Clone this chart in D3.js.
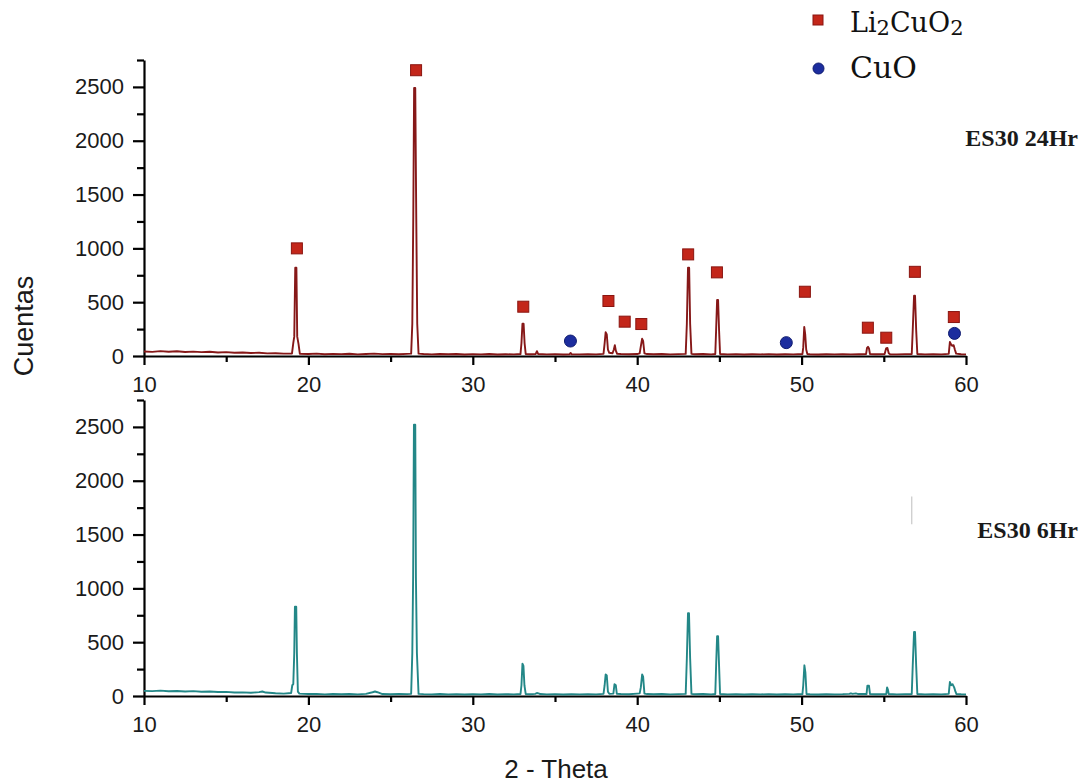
<!DOCTYPE html>
<html>
<head>
<meta charset="utf-8">
<script src="https://cdn.jsdelivr.net/npm/d3@7"></script>
<style>
  html, body { margin: 0; padding: 0; background: #fff; }
  svg { display: block; }
</style>
</head>
<body>
<svg id="chart" width="1088" height="784"></svg>
<script>
// ---------------- DATA ----------------
const xMajorTicks = [10, 20, 30, 40, 50, 60];
const xMinorTicks = [15, 25, 35, 45, 55];
const yMajorTicks = [0, 500, 1000, 1500, 2000, 2500];
const yMinorTicks = [250, 750, 1250, 1750, 2250, 2750];

const seriesNames = ["ES30 24Hr", "ES30 6Hr"];
const legendNames = ["Li2CuO2", "CuO"];

// ES30 24Hr pattern: [2-theta, counts]
const es30_24hr = [
  [10,42],[10.5,38],[11,45],[11.5,40],[12,44],[12.5,37],[13,41],[13.5,36],[14,39],[14.5,33],
  [15,36],[15.5,30],[16,32],[16.5,28],[17,30],[17.5,24],[18,26],[18.5,22],[19.0,22],
  [19.08,120],[19.14,180],[19.2,820],[19.27,820],[19.32,180],[19.4,110],[19.48,20],
  [20,18],[20.5,22],[21,16],[21.5,20],[22,17],[22.5,21],[23,15],[23.5,19],[24,22],[24.5,17],
  [25,19],[25.5,16],[26,20],[26.25,22],
  [26.32,300],[26.38,1300],[26.43,2490],[26.5,2490],[26.56,1300],[26.62,300],[26.7,22],
  [27,18],[27.5,15],[28,19],[28.5,16],[29,18],[29.5,14],[30,17],[30.5,15],[31,18],[31.5,14],
  [32,16],[32.5,15],[32.9,18],
  [32.96,120],[33.02,300],[33.09,300],[33.15,120],[33.22,18],
  [33.5,16],[33.82,18],[33.9,45],[33.98,18],[34.5,15],[35,17],[35.5,14],[35.88,16],[35.95,28],
  [36.02,16],[36.5,15],[37,17],[37.5,15],[37.95,20],
  [38.02,120],[38.08,220],[38.15,200],[38.22,60],[38.3,30],[38.5,25],[38.58,60],[38.64,100],
  [38.7,50],[38.78,20],
  [39,18],[39.5,16],[40,18],[40.15,25],
  [40.22,90],[40.3,160],[40.36,140],[40.44,25],
  [40.6,18],[41,16],[41.5,18],[42,15],[42.5,17],[42.95,20],
  [43.02,300],[43.09,820],[43.16,820],[43.22,300],[43.3,20],
  [43.5,16],[44,18],[44.5,15],[44.75,18],
  [44.8,240],[44.86,520],[44.92,520],[44.98,240],[45.04,18],
  [45.5,15],[46,17],[46.5,14],[47,16],[47.5,15],[48,17],[48.5,14],[49,16],[49.5,15],[50.05,18],
  [50.1,80],[50.16,270],[50.22,200],[50.28,60],[50.35,18],
  [50.5,16],[51,14],[51.5,16],[52,15],[52.5,17],[53,15],[53.5,16],[53.92,18],
  [53.98,75],[54.04,85],[54.1,70],[54.16,18],
  [54.5,16],[55.05,18],[55.14,70],[55.22,75],[55.3,25],[55.38,16],
  [55.8,15],[56.3,17],[56.7,18],
  [56.76,240],[56.84,560],[56.9,560],[56.97,240],[57.04,18],
  [57.5,15],[58,17],[58.5,15],[58.95,20],
  [59.02,130],[59.08,110],[59.15,95],[59.25,100],[59.32,60],[59.4,22],
  [59.7,16],[60,15]
];

// ES30 6Hr pattern: [2-theta, counts]
const es30_6hr = [
  [10,48],[10.5,45],[11,50],[11.5,44],[12,46],[12.5,42],[13,45],[13.5,40],[14,42],[14.5,37],
  [15,38],[15.5,33],[16,34],[16.5,30],[17.0,36],[17.2,42],[17.4,32],[18,25],[18.5,22],[18.95,28],
  [19.02,100],[19.08,110],[19.14,400],[19.18,830],[19.26,830],[19.3,400],[19.36,40],[19.45,22],
  [20,18],[20.5,20],[21,15],[21.5,18],[22,16],[22.5,19],[23,15],[23.5,20],[23.9,35],[24.05,42],
  [24.2,35],[24.5,18],[25,16],[25.5,18],[26,17],[26.25,20],
  [26.32,400],[26.37,1100],[26.42,2520],[26.5,2520],[26.54,1100],[26.6,400],[26.7,20],
  [27,17],[27.5,15],[28,18],[28.5,15],[29,17],[29.5,14],[30,16],[30.5,15],[31,19],[31.5,14],
  [32,17],[32.5,15],[32.9,18],
  [32.96,100],[33.02,300],[33.08,280],[33.14,100],[33.22,18],
  [33.5,16],[33.8,20],[33.9,28],[34.0,25],[34.1,18],[34.5,15],[35,17],[35.5,14],[36,16],
  [36.5,15],[37,17],[37.5,15],[37.95,20],
  [38.02,100],[38.08,200],[38.15,190],[38.22,40],[38.3,20],[38.55,22],[38.62,110],[38.7,100],
  [38.76,20],
  [39,18],[39.5,16],[40.0,22],[40.15,24],
  [40.22,80],[40.3,200],[40.36,180],[40.44,22],
  [40.6,18],[41,16],[41.5,18],[42,15],[42.5,17],[42.95,20],
  [43.02,350],[43.09,770],[43.15,770],[43.22,350],[43.3,20],
  [43.5,16],[44,18],[44.5,15],[44.75,18],
  [44.8,280],[44.86,555],[44.92,555],[44.98,280],[45.04,18],
  [45.5,15],[46,17],[46.5,14],[47,16],[47.5,15],[48,17],[48.5,14],[49,16],[49.5,15],[50.05,18],
  [50.1,100],[50.17,285],[50.23,220],[50.3,18],
  [50.5,16],[51,14],[51.5,16],[52,15],[52.5,17],[52.9,20],[53.0,25],[53.1,20],[53.3,24],[53.45,18],
  [53.95,18],[54.0,95],[54.1,95],[54.16,18],
  [54.5,16],[55.15,18],[55.2,80],[55.25,60],[55.3,18],
  [55.8,15],[56.3,17],[56.7,18],
  [56.76,280],[56.84,595],[56.9,595],[56.97,280],[57.04,18],
  [57.5,15],[58,17],[58.5,15],[58.95,20],
  [59.02,130],[59.1,100],[59.18,110],[59.28,80],[59.36,40],[59.42,18],
  [59.7,16],[60,15]
];

// Phase markers on the 24Hr pattern: [2-theta, counts]
const li2cuo2Markers = [
  [19.3,1000],[26.55,2655],[33.07,458],[38.25,511],[39.24,319],[40.25,297],
  [43.1,944],[44.85,777],[50.2,597],[54.03,263],[55.15,170],[56.89,782],[59.26,362]
];
const cuoMarkers = [[35.94,139],[49.07,124],[59.3,210]];

// faint artefact mark in lower panel: [2-theta, counts]
const artefact = [[56.7,1854],[56.7,1596]];

// ---------------- CHART ----------------
const svg = d3.select("#chart");
svg.append("rect").attr("width",1088).attr("height",784).attr("fill","#fff");

const x = d3.scaleLinear().domain([10, 60]).range([144, 966]);
const yTop = d3.scaleLinear().domain([0, 2750]).range([356, 60]);
const yBot = d3.scaleLinear().domain([0, 2750]).range([696, 400]);

const tickFont = "'Liberation Sans', Arial, sans-serif";

function drawAxes(y) {
  const y0 = y(0);
  svg.append("g").attr("transform", `translate(0,${y0})`)
    .call(d3.axisBottom(x).tickValues(xMinorTicks).tickSize(6).tickSizeOuter(0).tickFormat(""))
    .call(g => g.select(".domain").remove());
  const gx = svg.append("g").attr("transform", `translate(0,${y0})`)
    .call(d3.axisBottom(x).tickValues(xMajorTicks).tickSize(9).tickSizeOuter(0).tickPadding(11).tickFormat(d3.format("d")));
  svg.append("g").attr("transform", `translate(${x(10)},0)`)
    .call(d3.axisLeft(y).tickValues(yMinorTicks).tickSize(7).tickSizeOuter(0).tickFormat(""))
    .call(g => g.select(".domain").remove());
  const gy = svg.append("g").attr("transform", `translate(${x(10)},0)`)
    .call(d3.axisLeft(y).tickValues(yMajorTicks).tickSize(11).tickSizeOuter(0).tickPadding(9).tickFormat(d3.format("d")));
  svg.selectAll(".domain").attr("stroke", "#000").attr("stroke-width", 2.2);
  svg.selectAll(".tick line").attr("stroke", "#000").attr("stroke-width", 2.2);
  [gx, gy].forEach(g => g.selectAll("text")
    .attr("font-family", tickFont).attr("font-size", 22).attr("fill", "#1a1a1a"));
}

drawAxes(yTop);
drawAxes(yBot);

const lineTop = d3.line().x(d => x(d[0])).y(d => yTop(d[1]));
const lineBot = d3.line().x(d => x(d[0])).y(d => yBot(d[1]));

svg.append("path").datum(es30_24hr).attr("d", lineTop)
  .attr("fill", "none").attr("stroke", "#861818").attr("stroke-width", 1.9)
  .attr("stroke-linejoin", "round");
svg.append("path").datum(es30_6hr).attr("d", lineBot)
  .attr("fill", "none").attr("stroke", "#238787").attr("stroke-width", 1.9)
  .attr("stroke-linejoin", "round");

svg.append("path").datum(artefact).attr("d", lineBot)
  .attr("fill", "none").attr("stroke", "#c8c8c8").attr("stroke-width", 1.2);

// markers
const sq = 11;
svg.append("g").selectAll("rect").data(li2cuo2Markers).join("rect")
  .attr("x", d => x(d[0]) - sq/2).attr("y", d => yTop(d[1]) - sq/2)
  .attr("width", sq).attr("height", sq)
  .attr("fill", "#c3261a").attr("stroke", "#8a1510").attr("stroke-width", 1);
svg.append("g").selectAll("circle").data(cuoMarkers).join("circle")
  .attr("cx", d => x(d[0])).attr("cy", d => yTop(d[1])).attr("r", 6)
  .attr("fill", "#1c2d9e").attr("stroke", "#101c70").attr("stroke-width", 1);

// legend
const lg = svg.append("g");
lg.append("rect").attr("x", 813).attr("y", 15).attr("width", 10).attr("height", 10)
  .attr("fill", "#c3261a").attr("stroke", "#8a1510").attr("stroke-width", 1);
lg.append("circle").attr("cx", 818.5).attr("cy", 68.5).attr("r", 5.5)
  .attr("fill", "#1c2d9e").attr("stroke", "#101c70").attr("stroke-width", 1);
const serif = "'DejaVu Serif', 'Liberation Serif', serif";
const t1 = lg.append("text").attr("x", 850).attr("y", 32)
  .attr("font-family", serif).attr("font-size", 27).attr("fill", "#111");
t1.append("tspan").text("Li");
t1.append("tspan").attr("font-size", 21).attr("dy", 3).text("2");
t1.append("tspan").attr("dy", -3).text("CuO");
t1.append("tspan").attr("font-size", 21).attr("dy", 3).text("2");
lg.append("text").attr("x", 850).attr("y", 78)
  .attr("font-family", serif).attr("font-size", 30).attr("fill", "#111").text(legendNames[1]);

// series labels
const boldSerif = "'Liberation Serif', 'Times New Roman', serif";
svg.append("text").attr("x", 1078).attr("y", 146).attr("text-anchor", "end")
  .attr("font-family", boldSerif).attr("font-weight", "bold").attr("font-size", 24)
  .attr("fill", "#1a1a1a").text(seriesNames[0]);
svg.append("text").attr("x", 1078).attr("y", 538).attr("text-anchor", "end")
  .attr("font-family", boldSerif).attr("font-weight", "bold").attr("font-size", 24)
  .attr("fill", "#1a1a1a").text(seriesNames[1]);

// axis titles
svg.append("text").attr("transform", "translate(33,326) rotate(-90)")
  .attr("text-anchor", "middle").attr("font-family", tickFont).attr("font-size", 27)
  .attr("fill", "#1a1a1a").text("Cuentas");
svg.append("text").attr("x", 556).attr("y", 778).attr("text-anchor", "middle")
  .attr("font-family", tickFont).attr("font-size", 26).attr("fill", "#1a1a1a")
  .attr("xml:space", "preserve").text("2 - Theta");
</script>
</body>
</html>
